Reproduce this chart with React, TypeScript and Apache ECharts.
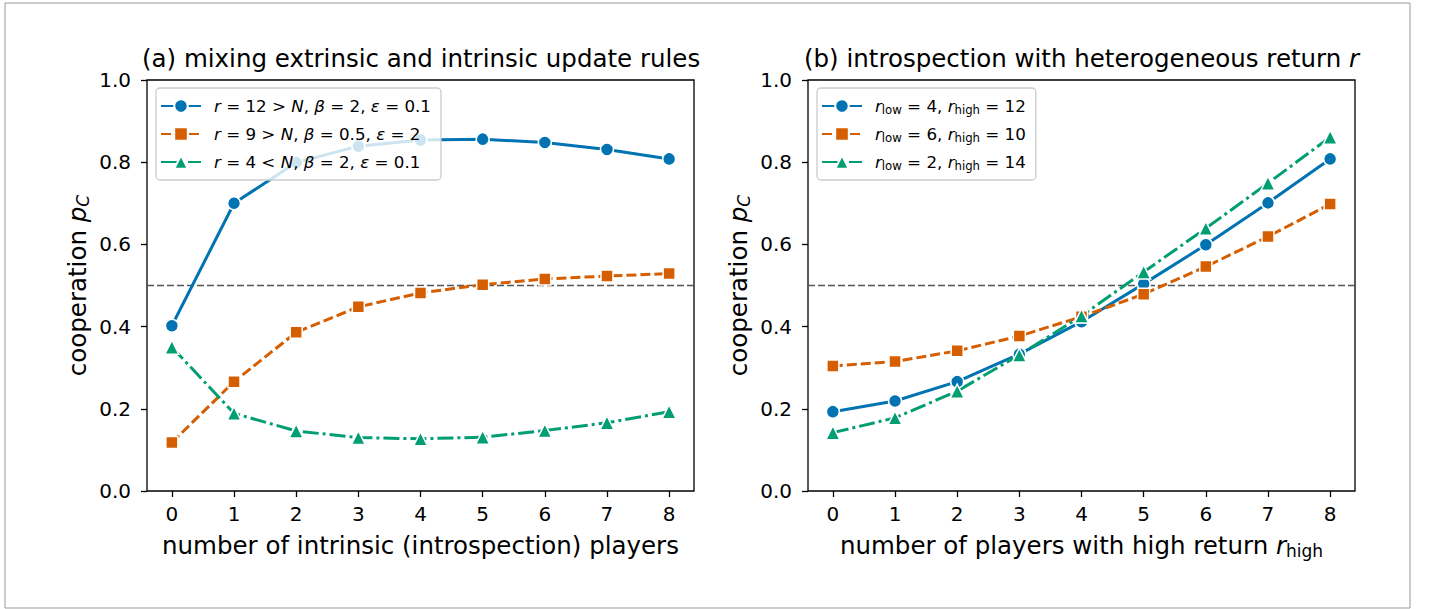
import React, { useEffect, useRef } from "react";
import * as echarts from "echarts";

const X_VALUES = [0, 1, 2, 3, 4, 5, 6, 7, 8];
const Y_TICKS = [0, 0.2, 0.4, 0.6, 0.8, 1.0];

// panel (a)
const A_R12 = [0.402, 0.7, 0.799, 0.839, 0.854, 0.856, 0.848, 0.831, 0.808];
const A_R9 = [0.118, 0.266, 0.386, 0.448, 0.482, 0.502, 0.516, 0.523, 0.529];
const A_R4 = [0.35, 0.189, 0.146, 0.13, 0.127, 0.131, 0.147, 0.166, 0.193];
// panel (b)
const B_L4_H12 = [0.193, 0.219, 0.266, 0.333, 0.412, 0.504, 0.599, 0.701, 0.808];
const B_L6_H10 = [0.304, 0.315, 0.341, 0.377, 0.424, 0.479, 0.546, 0.619, 0.698];
const B_L2_H14 = [0.142, 0.178, 0.243, 0.331, 0.426, 0.533, 0.639, 0.749, 0.861];

const THRESHOLD = 0.5;

const BLUE = "#0173b2";
const ORANGE = "#d55e00";
const GREEN = "#029e73";
const FONT = "DejaVu Sans";

const LEGEND_TEXT: Record<string, string> = {
  a0: "{g|}{i|r} = 12 > {i|N}, {i|β} = 2, {i|ε} = 0.1",
  a1: "{g|}{i|r} = 9 > {i|N}, {i|β} = 0.5, {i|ε} = 2",
  a2: "{g|}{i|r} = 4 < {i|N}, {i|β} = 2, {i|ε} = 0.1",
  b0: "{g|}{i|r}{s|low} = 4, {i|r}{s|high} = 12",
  b1: "{g|}{i|r}{s|low} = 6, {i|r}{s|high} = 10",
  b2: "{g|}{i|r}{s|low} = 2, {i|r}{s|high} = 14",
};

const Y_NAME = "cooperation {i|p}{si|C}";

const pairs = (ys: number[]) => X_VALUES.map((x, i) => [x, ys[i]]);

const BIG = 24.5;

const richBig = {
  i: { fontFamily: FONT, fontStyle: "italic", fontSize: BIG, lineHeight: 28, color: "#000" },
  s: {
    fontFamily: FONT,
    fontStyle: "normal",
    fontSize: 17,
    lineHeight: 14,
    verticalAlign: "bottom",
    color: "#000",
  },
  si: {
    fontFamily: FONT,
    fontStyle: "italic",
    fontSize: 17,
    lineHeight: 14,
    verticalAlign: "bottom",
    color: "#000",
  },
};

const richLegend = {
  g: { width: 8 },
  i: { fontFamily: FONT, fontStyle: "italic", fontSize: 16.7, lineHeight: 20, color: "#000" },
  s: {
    fontFamily: FONT,
    fontSize: 11.7,
    lineHeight: 10,
    verticalAlign: "bottom",
    color: "#000",
  },
};

const DASHED = [10, 4];
const DASHDOT = [16, 4, 3, 4];

function seriesDef(
  name: string,
  ys: number[],
  color: string,
  symbol: string,
  size: number,
  dash: any,
  idx: number
) {
  return {
    name,
    type: "line",
    xAxisIndex: idx,
    yAxisIndex: idx,
    data: pairs(ys),
    symbol,
    symbolSize: size,
    showSymbol: true,
    color,
    lineStyle: { color, width: 3, type: dash, cap: "butt" },
    itemStyle: { color, borderColor: "#ffffff", borderWidth: 1.5 },
    z: 3,
  };
}

function refLine(idx: number) {
  return {
    name: "ref" + idx,
    type: "line",
    xAxisIndex: idx,
    yAxisIndex: idx,
    data: [
      [-0.4, THRESHOLD],
      [8.4, THRESHOLD],
    ],
    symbol: "none",
    silent: true,
    lineStyle: { color: "#555555", width: 1.6, type: [7, 3] },
    z: 2,
  };
}

export default function App() {
  const ref = useRef<HTMLDivElement>(null);
  useEffect(() => {
    if (!ref.current) return;
    const chart = echarts.init(ref.current, null, { renderer: "svg" });

    const grids = [
      { left: 147, top: 80, width: 547, height: 411 },
      { left: 808, top: 80, width: 547, height: 411 },
    ];

    const xAxis = [0, 1].map((idx) => ({
      type: "value",
      gridIndex: idx,
      position: "bottom",
      min: -0.4,
      max: 8.4,
      name:
        idx === 0
          ? "number of intrinsic (introspection) players"
          : "number of players with high return {i|r}{s|high}",
      nameLocation: "middle",
      nameGap: 40,
      nameTextStyle: { fontFamily: FONT, fontSize: BIG, color: "#000", lineHeight: 28, rich: richBig },
      axisLine: { show: false, onZero: false },
      axisTick: {
        show: true,
        length: 6,
        inside: false,
        customValues: X_VALUES,
        lineStyle: { color: "#000", width: 1.3 },
      },
      axisLabel: {
        show: true,
        customValues: X_VALUES,
        margin: 13,
        fontFamily: FONT,
        fontSize: 20,
        color: "#000",
        formatter: (v: number) => String(Math.round(v)),
      },
      splitLine: { show: false },
    }));

    const yAxis = [0, 1].map((idx) => ({
      type: "value",
      gridIndex: idx,
      position: "left",
      min: 0,
      max: 1,
      axisLine: { show: false, onZero: false },
      axisTick: {
        show: true,
        length: 6,
        inside: false,
        customValues: Y_TICKS,
        lineStyle: { color: "#000", width: 1.3 },
      },
      axisLabel: {
        margin: 16,
        hideOverlap: false,
        customValues: Y_TICKS,
        fontFamily: FONT,
        fontSize: 20,
        color: "#000",
        formatter: (v: number) => v.toFixed(1),
      },
      splitLine: { show: false },
    }));

    const legendBase = {
      orient: "vertical",
      top: 88,
      itemWidth: 40,
      itemHeight: 17,
      itemGap: 8,
      padding: [8, 10, 8, 4],
      backgroundColor: "rgba(255,255,255,0.8)",
      borderColor: "#cccccc",
      borderWidth: 1.3,
      borderRadius: 4,
      formatter: (name: string) => LEGEND_TEXT[name] || name,
      textStyle: { fontFamily: FONT, fontSize: 16.7, color: "#000", lineHeight: 20, rich: richLegend },
      selectedMode: false,
    };

    const titleStyle = {
      fontFamily: FONT,
      fontSize: BIG,
      fontWeight: "normal",
      color: "#000",
      lineHeight: 28,
      rich: richBig,
    };

    const yNameGraphic = (cx: number) => ({
      type: "text",
      x: cx,
      y: 80 + 411 / 2,
      rotation: Math.PI / 2,
      silent: true,
      style: {
        text: Y_NAME,
        fontFamily: FONT,
        fontSize: BIG,
        fill: "#000",
        lineHeight: 28,
        align: "center",
        verticalAlign: "middle",
        rich: richBig,
      },
    });

    const option: any = {
      animation: false,
      backgroundColor: "#ffffff",
      grid: grids.map((g) => ({
        ...g,
        show: true,
        borderColor: "#000",
        borderWidth: 1.3,
        backgroundColor: "transparent",
        containLabel: false,
        outerBoundsMode: "none",
      })),
      title: [
        {
          text: "(a) mixing extrinsic and intrinsic update rules",
          left: 142,
          top: 44,
          padding: 0,
          textStyle: titleStyle,
        },
        {
          text: "(b) introspection with heterogeneous return {i|r}",
          left: 804,
          top: 44,
          padding: 0,
          textStyle: titleStyle,
        },
      ],
      legend: [
        { ...legendBase, left: 156, data: ["a0", "a1", "a2"] },
        { ...legendBase, left: 817, data: ["b0", "b1", "b2"] },
      ],
      xAxis,
      yAxis,
      graphic: [
        {
          type: "rect",
          shape: { x: 5, y: 3, width: 1405, height: 605 },
          style: { fill: "none", stroke: "#999999", lineWidth: 1 },
          silent: true,
          z: 0,
        },
        yNameGraphic(77),
        yNameGraphic(738),
      ],
      series: [
        refLine(0),
        seriesDef("a0", A_R12, BLUE, "circle", 13, "solid", 0),
        seriesDef("a1", A_R9, ORANGE, "rect", 12, DASHED, 0),
        seriesDef("a2", A_R4, GREEN, "triangle", 14, DASHDOT, 0),
        refLine(1),
        seriesDef("b0", B_L4_H12, BLUE, "circle", 13, "solid", 1),
        seriesDef("b1", B_L6_H10, ORANGE, "rect", 12, DASHED, 1),
        seriesDef("b2", B_L2_H14, GREEN, "triangle", 14, DASHDOT, 1),
      ],
    };
    chart.setOption(option);
    return () => chart.dispose();
  }, []);

  return (
    <div
      ref={ref}
      style={{ position: "absolute", left: 0, top: 0, width: 1429, height: 609 }}
    />
  );
}
